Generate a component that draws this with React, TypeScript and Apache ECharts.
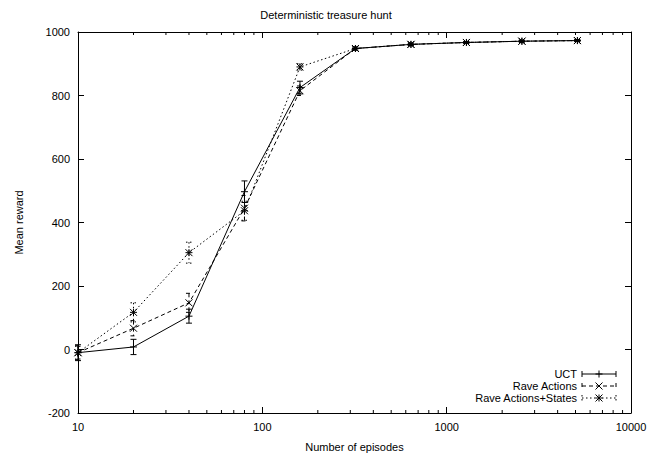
import React, { useEffect, useRef } from "react";
import * as echarts from "echarts";

const episodes = [10, 20, 40, 80, 160, 320, 640, 1280, 2560, 5120];
const uctMean = [-10, 8, 105, 497, 825, 948, 961, 967, 971, 973];
const uctErr = [25, 24, 22, 34, 20, 5, 4, 3, 3, 3];
const raveActMean = [-10, 67, 147, 445, 815, 948, 961, 967, 971, 973];
const raveActErr = [22, 24, 30, 40, 15, 5, 4, 3, 3, 3];
const raveStMean = [-10, 117, 305, 437, 890, 948, 961, 967, 971, 973];
const raveStErr = [20, 30, 33, 30, 10, 5, 4, 3, 3, 3];
const seriesNames = ["UCT", "Rave Actions", "Rave Actions+States"];
const minorTickValues = [
  20, 30, 40, 50, 60, 70, 80, 90,
  200, 300, 400, 500, 600, 700, 800, 900,
  2000, 3000, 4000, 5000, 6000, 7000, 8000, 9000,
];

const FONT = "'Liberation Sans', Arial, Helvetica, sans-serif";
const DASHED = [4, 3];
const DOTTED = [1.5, 2.5];

type Marker = "plus" | "cross" | "star";

function markerShapes(m: Marker, cx: number, cy: number) {
  const s = 3.5;
  const plus = [
    { x1: cx - s, y1: cy, x2: cx + s, y2: cy },
    { x1: cx, y1: cy - s, x2: cx, y2: cy + s },
  ];
  const cross = [
    { x1: cx - s, y1: cy - s, x2: cx + s, y2: cy + s },
    { x1: cx - s, y1: cy + s, x2: cx + s, y2: cy - s },
  ];
  if (m === "plus") return plus;
  if (m === "cross") return cross;
  return [...plus, ...cross];
}

function errorSeries(name: string, means: number[], errs: number[], marker: Marker, dash: number[] | null) {
  return {
    type: "custom",
    name: name + " err",
    xAxisIndex: 0,
    yAxisIndex: 0,
    silent: true,
    clip: false,
    z: 4,
    data: episodes.map((x, i) => [x, means[i], errs[i]]),
    renderItem: (params: any, api: any) => {
      const x = api.value(0);
      const y = api.value(1);
      const e = api.value(2);
      const c = api.coord([x, y]);
      const t = api.coord([x, y + e]);
      const b = api.coord([x, y - e]);
      const style: any = { stroke: "#000", lineWidth: 1, fill: "none" };
      if (dash) style.lineDash = dash;
      const children: any[] = [
        { type: "line", shape: { x1: c[0], y1: t[1], x2: c[0], y2: b[1] }, style },
        { type: "line", shape: { x1: c[0] - 3, y1: t[1], x2: c[0] + 3, y2: t[1] }, style },
        { type: "line", shape: { x1: c[0] - 3, y1: b[1], x2: c[0] + 3, y2: b[1] }, style },
      ];
      markerShapes(marker, c[0], c[1]).forEach((s) =>
        children.push({ type: "line", shape: s, style: { stroke: "#000", lineWidth: 1 } })
      );
      return { type: "group", children };
    },
  };
}

function lineSeries(name: string, means: number[], dash: any) {
  return {
    type: "line",
    name,
    xAxisIndex: 0,
    yAxisIndex: 0,
    silent: true,
    symbol: "none",
    z: 3,
    data: episodes.map((x, i) => [x, means[i]]),
    lineStyle: { color: "#000", width: 1, type: dash },
  };
}

function legendItem(label: string, y: number, marker: Marker, dash: number[] | null) {
  const x0 = 582;
  const x1 = 616;
  const style: any = { stroke: "#000", lineWidth: 1, fill: "none" };
  if (dash) style.lineDash = dash;
  const items: any[] = [
    {
      type: "text",
      x: 577,
      y,
      style: { text: label, fill: "#000", font: `11px ${FONT}`, align: "right", verticalAlign: "middle" },
    },
    { type: "line", shape: { x1: x0, y1: y, x2: x1, y2: y }, style },
    { type: "line", shape: { x1: x0, y1: y - 3, x2: x0, y2: y + 3 }, style },
    { type: "line", shape: { x1: x1, y1: y - 3, x2: x1, y2: y + 3 }, style },
  ];
  markerShapes(marker, (x0 + x1) / 2, y).forEach((s) =>
    items.push({ type: "line", shape: s, style: { stroke: "#000", lineWidth: 1 } })
  );
  return items;
}

export default function App() {
  const ref = useRef<HTMLDivElement>(null);
  useEffect(() => {
    if (!ref.current) return;
    const chart = echarts.init(ref.current, undefined, { renderer: "svg" });
    const labelStyle = { color: "#000", fontSize: 11, fontFamily: FONT };
    const axisLine = { show: true, onZero: false, lineStyle: { color: "#000", width: 1 } };
    const tick = { show: true, inside: true, length: 6, lineStyle: { color: "#000", width: 1 } };
    chart.setOption({
      animation: false,
      backgroundColor: "#fff",
      title: {
        text: "Deterministic treasure hunt",
        left: "center",
        top: 4,
        textStyle: { color: "#000", fontSize: 11, fontWeight: "normal", fontFamily: FONT },
      },
      grid: { left: 78, right: 21, top: 32, bottom: 44 },
      xAxis: [
        {
          type: "log",
          logBase: 10,
          min: 10,
          max: 10000,
          position: "bottom",
          axisLine,
          axisTick: tick,
          splitLine: { show: false },
          axisLabel: { ...labelStyle, margin: 8, formatter: (v: number) => String(Math.round(v)) },
          name: "Number of episodes",
          nameLocation: "middle",
          nameGap: 28,
          nameTextStyle: labelStyle,
        },
        {
          type: "log",
          logBase: 10,
          min: 10,
          max: 10000,
          position: "top",
          axisLine,
          axisTick: tick,
          splitLine: { show: false },
          axisLabel: { show: false },
        },
      ],
      yAxis: [
        {
          type: "value",
          min: -200,
          max: 1000,
          interval: 200,
          position: "left",
          axisLine,
          axisTick: tick,
          splitLine: { show: false },
          axisLabel: { ...labelStyle, margin: 8, formatter: (v: number) => String(v) },
          name: "Mean reward",
          nameLocation: "middle",
          nameGap: 54,
          nameRotate: 90,
          nameTextStyle: labelStyle,
        },
        {
          type: "value",
          min: -200,
          max: 1000,
          interval: 200,
          position: "right",
          axisLine,
          axisTick: tick,
          splitLine: { show: false },
          axisLabel: { show: false },
        },
      ],
      series: [
        lineSeries(seriesNames[0], uctMean, "solid"),
        lineSeries(seriesNames[1], raveActMean, DASHED),
        lineSeries(seriesNames[2], raveStMean, DOTTED),
        errorSeries(seriesNames[0], uctMean, uctErr, "plus", null),
        errorSeries(seriesNames[1], raveActMean, raveActErr, "cross", DASHED),
        errorSeries(seriesNames[2], raveStMean, raveStErr, "star", DOTTED),
        {
          type: "custom",
          name: "minor ticks",
          xAxisIndex: 0,
          yAxisIndex: 0,
          silent: true,
          clip: false,
          z: 5,
          data: minorTickValues.map((v) => [v, 0]),
          renderItem: (params: any, api: any) => {
            const px = api.coord([api.value(0), 0])[0];
            const cs = params.coordSys;
            const style = { stroke: "#000", lineWidth: 1 };
            return {
              type: "group",
              children: [
                { type: "line", shape: { x1: px, y1: cs.y + cs.height, x2: px, y2: cs.y + cs.height - 3 }, style },
                { type: "line", shape: { x1: px, y1: cs.y, x2: px, y2: cs.y + 3 }, style },
              ],
            };
          },
        },
      ],
      graphic: [
        ...legendItem(seriesNames[0], 374, "plus", null),
        ...legendItem(seriesNames[1], 386, "cross", DASHED),
        ...legendItem(seriesNames[2], 398, "star", DOTTED),
      ],
    });
    return () => chart.dispose();
  }, []);
  return (
    <div
      ref={ref}
      style={{ position: "fixed", left: 0, top: 0, width: 652, height: 457, background: "#fff" }}
    />
  );
}
